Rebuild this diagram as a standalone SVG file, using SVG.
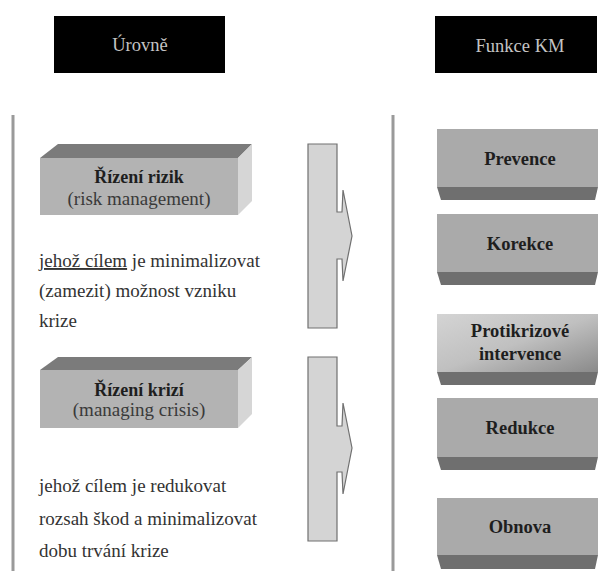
<svg xmlns="http://www.w3.org/2000/svg" width="599" height="571" viewBox="0 0 599 571" font-family="'Liberation Serif', 'DejaVu Serif', serif">
<style>
text{font-family:'Liberation Serif','DejaVu Serif',serif;}
.hdr{fill:#000;}
.hdrt{fill:#c4c4c4;font-size:18.5px;text-anchor:middle;}
.front{fill:#b3b3b3;}
.top{fill:#7b7b7b;}
.side{fill:#d6d6d6;}
.rfront{fill:#aaaaaa;}
.rbot{fill:#6f6f6f;}
.bt{fill:#1e1e1e;font-size:18.5px;font-weight:bold;text-anchor:middle;}
.lt{fill:#1e1e1e;font-size:18px;font-weight:bold;text-anchor:middle;}
.st{fill:#3a3a3a;font-size:19px;text-anchor:middle;}
.para{fill:#333;font-size:19px;}
.arrow{fill:#d4d4d4;stroke:#707070;stroke-width:1.2;}
.div{stroke:#9a9a9a;stroke-width:3;}
</style>
<defs>
<linearGradient id="grad" x1="0" y1="0" x2="1" y2="1">
<stop offset="0" stop-color="#d4d4d4"/>
<stop offset="0.5" stop-color="#c0c0c0"/>
<stop offset="1" stop-color="#8a8a8a"/>
</linearGradient>
</defs>

<g id="dividers">
<line class="div" x1="13" y1="115" x2="13" y2="571"/>
<line class="div" x1="393" y1="115" x2="393" y2="571"/>
</g>

<g id="hdr-urovne">
<rect class="hdr" x="54" y="16" width="171" height="57"/>
<text class="hdrt" x="140" y="51">Úrovně</text>
</g>
<g id="hdr-funkce">
<rect class="hdr" x="435" y="16" width="162" height="57"/>
<text class="hdrt" x="520" y="52">Funkce KM</text>
</g>

<g id="rizeni-rizik">
<polygon class="top" points="40,158 238,158 252,144 58,144"/>
<polygon class="side" points="238,158 252,144 252,201 238,215"/>
<rect class="front" x="40" y="158" width="198" height="57"/>
<text class="lt" x="139" y="183">Řízení rizik</text>
<text class="st" x="139" y="205">(risk management)</text>
</g>
<g id="text-rizik">
<text class="para" x="39" y="267"><tspan text-decoration="underline">jehož cílem</tspan> je minimalizovat</text>
<text class="para" x="39" y="297">(zamezit) možnost vzniku</text>
<text class="para" x="39" y="327">krize</text>
</g>

<g id="rizeni-krizi">
<polygon class="top" points="40,370 238,370 252,357 58,357"/>
<polygon class="side" points="238,370 252,357 252,414 238,428"/>
<rect class="front" x="40" y="370" width="198" height="58"/>
<text class="lt" x="139" y="396">Řízení krizí</text>
<text class="st" x="139" y="416">(managing crisis)</text>
</g>
<g id="text-krizi">
<text class="para" x="39" y="492">jehož cílem je redukovat</text>
<text class="para" x="39" y="525">rozsah škod a minimalizovat</text>
<text class="para" x="39" y="557">dobu trvání krize</text>
</g>

<g id="connectors">
<polygon class="arrow" points="308,144 337,144 337,212 342,212 343,190 352,236 343,281 342,259 337,259 337,328 308,328"/>
<polygon class="arrow" points="308,357 337,357 337,426 342,426 343,403 352,448 343,494 342,472 337,472 337,541 308,541"/>
</g>

<g id="prevence">
<polygon class="rbot" points="437,187 598,187 595,200 441,200"/>
<rect class="rfront" x="437" y="129" width="161" height="58"/>
<text class="bt" x="520" y="165">Prevence</text>
</g>
<g id="korekce">
<polygon class="rbot" points="437,272 598,272 595,285 441,285"/>
<rect class="rfront" x="437" y="214" width="161" height="58"/>
<text class="bt" x="520" y="250">Korekce</text>
</g>
<g id="protikrizove">
<polygon class="rbot" points="437,372 598,372 595,385 441,385"/>
<rect fill="url(#grad)" x="437" y="314" width="161" height="58"/>
<text class="bt" x="520" y="337">Protikrizové</text>
<text class="bt" x="520" y="360">intervence</text>
</g>
<g id="redukce">
<polygon class="rbot" points="437,457 598,457 595,470 441,470"/>
<rect class="rfront" x="437" y="398" width="161" height="59"/>
<text class="bt" x="520" y="434">Redukce</text>
</g>
<g id="obnova">
<polygon class="rbot" points="437,555 598,555 595,569 441,569"/>
<rect class="rfront" x="437" y="498" width="161" height="57"/>
<text class="bt" x="520" y="533">Obnova</text>
</g>
</svg>
